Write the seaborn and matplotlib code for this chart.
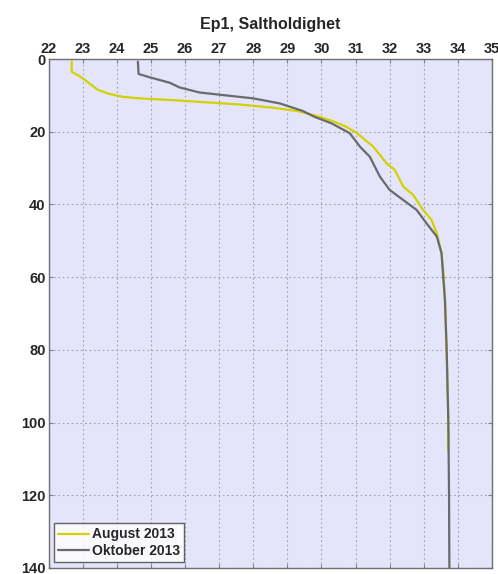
import matplotlib
matplotlib.use("Agg")
import matplotlib.pyplot as plt
import seaborn as sns
import pandas as pd

# August 2013
aug_depth = [0.7, 3.5, 4.7, 6.7, 8.5, 9.6, 10.4, 10.8, 11.3, 11.9, 12.5, 13.4, 14.3, 15.0, 15.9,
             17.1, 18.5, 20.3, 24.1, 28.7, 30.5, 35.1, 37.4, 41.5, 44.3, 47.9, 53.4, 58.0, 66.0,
             80.0, 95.0, 108.0]
aug_sal = [22.68, 22.68, 22.91, 23.20, 23.45, 23.79, 24.18, 24.67, 25.65, 26.63, 27.60, 28.60,
           29.30, 29.60, 29.95, 30.34, 30.70, 31.03, 31.52, 31.91, 32.15, 32.40, 32.69, 32.98,
           33.23, 33.38, 33.52, 33.57, 33.62, 33.67, 33.71, 33.72]

# Oktober 2013
okt_depth = [0.7, 4.1, 5.0, 6.5, 7.8, 9.2, 9.9, 10.8, 12.2, 14.3, 15.9, 17.7, 20.4, 24.1, 26.9,
             32.3, 36.0, 38.8, 41.5, 45.2, 48.8, 53.4, 60.0, 66.3, 80.0, 100.0, 120.0, 140.0]
okt_sal = [24.62, 24.64, 24.96, 25.55, 25.84, 26.43, 27.11, 27.99, 28.78, 29.46, 29.80, 30.30,
           30.83, 31.13, 31.42, 31.71, 32.00, 32.40, 32.79, 33.08, 33.38, 33.52, 33.57, 33.62,
           33.67, 33.72, 33.74, 33.75]

series_names = ["August 2013", "Oktober 2013"]
x_ticks = list(range(22, 36))
y_ticks = list(range(0, 141, 20))

df = pd.concat([
    pd.DataFrame({"sal": aug_sal, "depth": aug_depth, "serie": series_names[0]}),
    pd.DataFrame({"sal": okt_sal, "depth": okt_depth, "serie": series_names[1]}),
], ignore_index=True)

sns.set_style("white")
plt.rcParams['font.family'] = ['Liberation Sans', 'DejaVu Sans']
plt.rcParams['font.weight'] = 'bold'

fig = plt.figure(figsize=(4.98, 5.74), dpi=100)
ax = fig.add_axes([0.0974, 0.0105, 0.8906, 0.8866])
ax.set_facecolor('#e4e4fb')

sns.lineplot(data=df, x="sal", y="depth", hue="serie", sort=False, estimator=None,
             palette={series_names[0]: '#d2d200', series_names[1]: '#6a6a6a'},
             linewidth=1.6, ax=ax)

ax.set_xlim(22, 35)
ax.set_ylim(140, 0)
ax.set_xticks(x_ticks)
ax.set_yticks(y_ticks)
ax.xaxis.tick_top()
ax.tick_params(axis='both', which='both', direction='in', length=3, width=0.8,
               color='#808080', labelsize=10.5, pad=2, top=True, bottom=True, left=True, right=True)
for lab in ax.get_xticklabels() + ax.get_yticklabels():
    lab.set_fontweight('bold')
ax.grid(True, linestyle=(0, (1.5, 2.5)), color='#a0a0a8', linewidth=0.8)
ax.set_axisbelow(True)
for s in ax.spines.values():
    s.set_color('#707070')
    s.set_linewidth(1.0)
ax.set_xlabel('')
ax.set_ylabel('')
ax.set_title('Ep1, Saltholdighet', fontsize=11.5, fontweight='bold', pad=22)

leg = ax.legend(loc='lower left', fontsize=10, frameon=True, fancybox=False,
                borderpad=0.3, handlelength=2.2, handletextpad=0.2, borderaxespad=0.4,
                labelspacing=0.2)
leg.get_frame().set_edgecolor('#404040')
leg.get_frame().set_linewidth(1.0)
for t in leg.get_texts():
    t.set_fontweight('bold')

fig.savefig('out.png', dpi=100)
